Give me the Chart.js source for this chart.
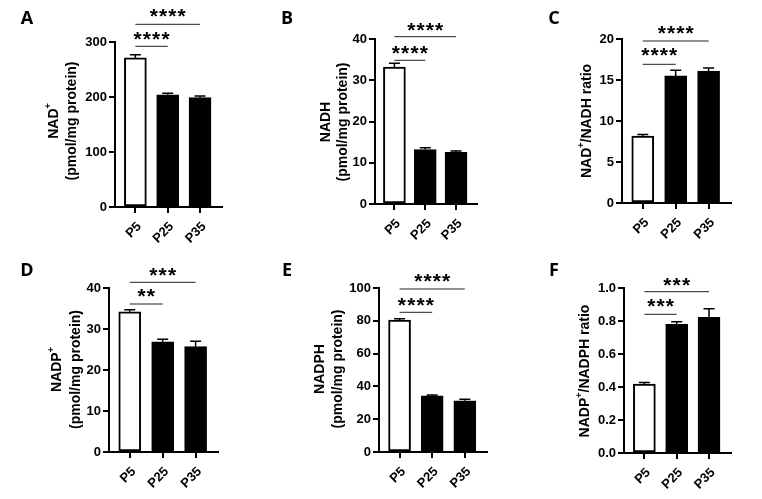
<!DOCTYPE html>
<html><head><meta charset="utf-8">
<script src="https://cdn.jsdelivr.net/npm/chart.js@4"></script>
<style>
html,body{margin:0;padding:0;background:#fff;width:762px;height:499px;overflow:hidden}
canvas{position:absolute;display:block}
</style></head><body>
<script>
const categories = ['P5', 'P25', 'P35'];
const panelLetters = ['A', 'B', 'C', 'D', 'E', 'F'];
const nadMean = [271, 204, 199];
const nadSem = [6, 3, 3];
const nadhMean = [33.2, 13.2, 12.5];
const nadhSem = [0.9, 0.45, 0.35];
const nadRatioMean = [8.15, 15.5, 16.1];
const nadRatioSem = [0.2, 0.7, 0.35];
const nadpMean = [34.2, 26.9, 25.7];
const nadpSem = [0.5, 0.6, 1.3];
const nadphMean = [80.5, 34.2, 31.2];
const nadphSem = [0.8, 0.6, 1.0];
const nadpRatioMean = [0.418, 0.78, 0.822];
const nadpRatioSem = [0.01, 0.016, 0.053];
const yMax = [300, 40, 20, 40, 100, 1.0];
const yStep = [100, 10, 5, 10, 20, 0.2];
const yDecimals = [0, 0, 0, 0, 0, 1];
const yTitles = [
  ['NAD^+', '(pmol/mg protein)'],
  ['NADH', '(pmol/mg protein)'],
  ['NAD^+/NADH ratio'],
  ['NADP^+', '(pmol/mg protein)'],
  ['NADPH', '(pmol/mg protein)'],
  ['NADP^+/NADPH ratio']
];
const sigPairs = [[0, 1], [0, 2]];
const sigStars = [['****', '****'], ['****', '****'], ['****', '****'], ['**', '***'], ['****', '****'], ['***', '***']];
const barFills = ['#ffffff', '#000000', '#000000'];

const means = [nadMean, nadhMean, nadRatioMean, nadpMean, nadphMean, nadpRatioMean];
const sems = [nadSem, nadhSem, nadRatioSem, nadpSem, nadphSem, nadpRatioSem];

// layout (local pixel positions inside each cell)
const layouts = [
  {x:0,   y:0,   w:254, h:250, L:115, T:42, R:222, B:207, tx:[54,72],     tcy:121, lx:27, ly:19, br:[[46.3,35.5],[24.3,13]]},
  {x:254, y:0,   w:254, h:250, L:121, T:39, R:223, B:204, tx:[71.7,89.3], tcy:122, lx:33, ly:19, br:[[60.3,50],[36.7,26.7]]},
  {x:508, y:0,   w:254, h:250, L:114, T:39, R:223, B:203, tx:[79],        tcy:121, lx:46, ly:19, br:[[64.3,52.3],[41,30]]},
  {x:0,   y:250, w:254, h:249, L:109, T:38, R:218, B:202, tx:[56.7,76],   tcy:119.5, lx:27, ly:21, br:[[54,43.3],[32.3,21.7]]},
  {x:254, y:250, w:254, h:249, L:125, T:38, R:233, B:202, tx:[65.7,84],   tcy:119, lx:33, ly:21, br:[[62.3,51.7],[39,28.3]]},
  {x:508, y:250, w:254, h:249, L:116, T:38, R:223, B:203, tx:[76.7],      tcy:121, lx:46, ly:21, br:[[64.3,53.3],[41.7,31.7]]}
];

const SANS = '"Liberation Sans", Arial, "DejaVu Sans", sans-serif';

function drawRich(ctx, str) {
  const pieces = str.split('^+');
  const segs = [];
  pieces.forEach((p, i) => {
    if (p) segs.push({t: p, sup: false});
    if (i < pieces.length - 1) segs.push({t: '+', sup: true});
  });
  const mainF = 'bold 14px ' + SANS, supF = 'bold 9px ' + SANS;
  let total = 0;
  segs.forEach(s => { ctx.font = s.sup ? supF : mainF; s.w = ctx.measureText(s.t).width; total += s.w; });
  let x = -total / 2;
  ctx.textAlign = 'left';
  ctx.textBaseline = 'middle';
  segs.forEach(s => {
    ctx.font = s.sup ? supF : mainF;
    ctx.fillText(s.t, x, s.sup ? -5 : 0);
    x += s.w;
  });
}

const decor = {
  id: 'decor',
  afterDatasetsDraw(chart, args, opts) {
    const ctx = chart.ctx, xs = chart.scales.x, ys = chart.scales.y;
    ctx.save();
    ctx.strokeStyle = '#000';
    ctx.lineWidth = 1.5;
    opts.mean.forEach((m, i) => {
      const x = xs.getPixelForValue(i);
      const y0 = ys.getPixelForValue(m), y1 = ys.getPixelForValue(m + opts.sem[i]);
      ctx.beginPath();
      ctx.moveTo(x, y0); ctx.lineTo(x, y1);
      ctx.moveTo(x - 5.5, y1); ctx.lineTo(x + 5.5, y1);
      ctx.stroke();
    });
    ctx.restore();
  },
  afterDraw(chart, args, opts) {
    const ctx = chart.ctx, xs = chart.scales.x;
    const L = opts.layout;
    ctx.save();
    ctx.fillStyle = '#000';
    // significance brackets
    sigPairs.forEach((pr, k) => {
      const xa = xs.getPixelForValue(pr[0]), xb = xs.getPixelForValue(pr[1]);
      const [ly, sy] = L.br[k];
      ctx.strokeStyle = '#222';
      ctx.lineWidth = 1;
      ctx.beginPath();
      ctx.moveTo(xa, ly); ctx.lineTo(xb, ly);
      ctx.stroke();
      const txt = opts.stars[k];
      ctx.font = 'bold 21px ' + SANS;
      ctx.textAlign = 'center';
      ctx.textBaseline = 'alphabetic';
      const m = ctx.measureText('*');
      const off = (m.actualBoundingBoxAscent - m.actualBoundingBoxDescent) / 2;
      const cx = (xa + xb) / 2;
      const n = txt.length, sp = 9.3;
      for (let j = 0; j < n; j++) {
        ctx.fillText(txt[j], cx + (j - (n - 1) / 2) * sp, sy + off);
      }
    });
    // y title
    opts.title.forEach((line, k) => {
      ctx.save();
      ctx.translate(L.tx[k], L.tcy);
      ctx.rotate(-Math.PI / 2);
      drawRich(ctx, line);
      ctx.restore();
    });
    // panel letter
    ctx.font = 'bold 18px "Open Sans", ' + SANS;
    ctx.textAlign = 'center';
    ctx.textBaseline = 'middle';
    ctx.fillText(opts.letter, L.lx, L.ly);
    ctx.restore();
  }
};

layouts.forEach((L, p) => {
  const cv = document.createElement('canvas');
  cv.width = L.w; cv.height = L.h;
  cv.style.left = L.x + 'px'; cv.style.top = L.y + 'px';
  cv.style.width = L.w + 'px'; cv.style.height = L.h + 'px';
  document.body.appendChild(cv);
  const tickFont = {family: SANS, size: 13, weight: 'bold'};
  new Chart(cv, {
    type: 'bar',
    data: {
      datasets: [{
        data: means[p].map((v, i) => ({x: i, y: v})),
        backgroundColor: barFills,
        borderColor: '#000',
        borderWidth: 2,
        borderSkipped: false,
        barThickness: 22
      }]
    },
    options: {
      responsive: false,
      animation: false,
      devicePixelRatio: 1,
      layout: {padding: {left: 0, top: L.T, right: L.w - L.R, bottom: 0}},
      plugins: {
        legend: {display: false},
        tooltip: {enabled: false},
        decor: {mean: means[p], sem: sems[p], stars: sigStars[p], title: yTitles[p], letter: panelLetters[p], layout: L}
      },
      scales: {
        x: {
          type: 'linear',
          min: -0.63, max: 2.68,
          offset: false,
          afterBuildTicks: s => { s.ticks = categories.map((c, i) => ({value: i})); },
          afterFit: s => { s.height = L.h - L.B; },
          ticks: {autoSkip: false, minRotation: 45, maxRotation: 45, callback: v => categories[v], font: tickFont, color: '#000', padding: 6, labelOffset: 4},
          grid: {display: true, offset: false, drawOnChartArea: false, drawTicks: true, tickLength: 6, color: '#000', lineWidth: 2},
          border: {display: true, color: '#000', width: 2}
        },
        y: {
          min: 0, max: yMax[p],
          afterFit: s => { s.width = L.L; },
          ticks: {stepSize: yStep[p], callback: v => Number(v).toFixed(yDecimals[p]), font: tickFont, color: '#000', padding: 2},
          grid: {display: true, drawOnChartArea: false, drawTicks: true, tickLength: 6, color: '#000', lineWidth: 2},
          border: {display: true, color: '#000', width: 2}
        }
      }
    },
    plugins: [decor]
  });
});
</script>
</body></html>
